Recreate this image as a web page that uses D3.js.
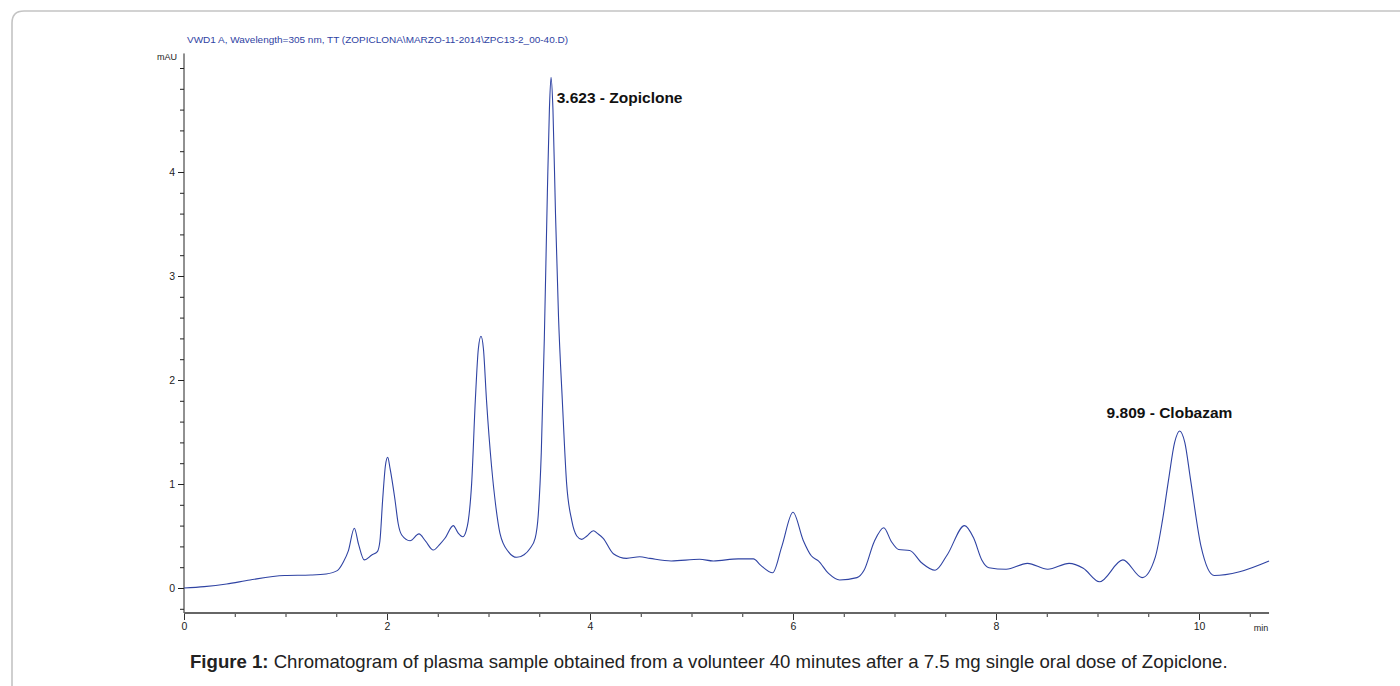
<!DOCTYPE html>
<html>
<head>
<meta charset="utf-8">
<script src="https://cdn.jsdelivr.net/npm/d3@7"></script>
<style>
  body { margin: 0; background: #fff; }
  svg { display: block; }
</style>
</head>
<body>
<div id="chart"></div>
<script>
// retention time (min) and signal (mAU)
var times = [0.00, 0.20, 0.42, 0.65, 0.99, 1.25, 1.40, 1.51, 1.57, 1.62, 1.678, 1.72, 1.776,
  1.85, 1.905, 1.93, 1.957, 1.985, 2.007, 2.03, 2.079, 2.11, 2.145, 2.227, 2.315, 2.38, 2.456,
  2.52, 2.571, 2.653, 2.70, 2.746, 2.78, 2.80, 2.834, 2.87, 2.90, 2.926, 2.95, 2.98, 3.03, 3.07,
  3.113, 3.195, 3.278, 3.35, 3.409, 3.46, 3.49, 3.52, 3.55, 3.58, 3.60, 3.616, 3.635, 3.66, 3.69,
  3.727, 3.77, 3.82, 3.87, 3.918, 3.97, 4.033, 4.08, 4.13, 4.23, 4.36, 4.49, 4.59, 4.80, 5.08,
  5.215, 5.46, 5.61, 5.68, 5.80, 5.89, 6.00, 6.10, 6.18, 6.25, 6.35, 6.46, 6.63, 6.70, 6.80,
  6.894, 6.97, 7.04, 7.15, 7.27, 7.40, 7.52, 7.69, 7.78, 7.86, 7.93, 8.10, 8.31, 8.51, 8.72,
  8.86, 9.02, 9.25, 9.44, 9.57, 9.64, 9.70, 9.76, 9.809, 9.86, 9.917, 10.02, 10.15, 10.40, 10.69];
var signal = [0.00, 0.013, 0.038, 0.077, 0.12, 0.125, 0.135, 0.167, 0.25, 0.36, 0.574, 0.42, 0.27,
  0.317, 0.35, 0.45, 0.846, 1.18, 1.257, 1.15, 0.846, 0.62, 0.51, 0.455, 0.52, 0.45, 0.365,
  0.42, 0.478, 0.60, 0.53, 0.493, 0.55, 0.64, 1.006, 1.80, 2.30, 2.42, 2.30, 1.81, 1.17, 0.80,
  0.526, 0.35, 0.295, 0.32, 0.38, 0.48, 0.70, 1.30, 2.40, 3.80, 4.60, 4.91, 4.60, 3.60, 2.60,
  1.81, 1.00, 0.65, 0.50, 0.468, 0.50, 0.55, 0.52, 0.478, 0.33, 0.285, 0.30, 0.285, 0.26, 0.276,
  0.26, 0.28, 0.28, 0.22, 0.147, 0.40, 0.728, 0.46, 0.31, 0.26, 0.14, 0.077, 0.10, 0.17, 0.445,
  0.58, 0.445, 0.37, 0.36, 0.24, 0.17, 0.32, 0.60, 0.48, 0.27, 0.195, 0.18, 0.237, 0.18, 0.237,
  0.19, 0.06, 0.27, 0.10, 0.30, 0.65, 1.04, 1.40, 1.51, 1.40, 1.04, 0.40, 0.12, 0.157, 0.26];

var xTicks = [0, 2, 4, 6, 8, 10];
var yTicks = [0, 1, 2, 3, 4];
var peakLabels = ["3.623 - Zopiclone", "9.809 - Clobazam"];
var peakTimes = [3.623, 9.809];
var peakHeights = [4.91, 1.51];

var titleText = "VWD1 A, Wavelength=305 nm, TT (ZOPICLONA\\MARZO-11-2014\\ZPC13-2_00-40.D)";

var w = 1400,
    h = 686,
    svg = d3.select("#chart")
            .append("svg")
            .attr("width", w)
            .attr("height", h);

var data = times.map(function(t, i) { return {t: t, v: signal[i]}; });

var x = d3.scaleLinear().domain([0, 10]).range([184, 1199]);
var y = d3.scaleLinear().domain([0, 4]).range([588, 172]);

var blue = "#2f43a3";
var axisFont = "'Liberation Sans Narrow', 'Liberation Sans', Arial, sans-serif";

// frame around the figure
svg.append("path")
    .attr("d", "M12,686 V23 Q12,11 24,11 H1400")
    .attr("fill", "none")
    .attr("stroke", "#c4c4c4")
    .attr("stroke-width", 1.6);

// header line
svg.append("text")
    .attr("x", 187)
    .attr("y", 43)
    .attr("font-family", axisFont)
    .attr("font-size", "9.5px")
    .attr("fill", blue)
    .attr("textLength", 381)
    .attr("lengthAdjust", "spacingAndGlyphs")
    .text(titleText);

// y axis: minor ticks every 0.2, labelled ticks at integers
var yMinor = d3.range(-1, 26).map(function(d) { return d * 0.2; });
svg.append("g")
    .attr("transform", "translate(184,0)")
    .call(d3.axisLeft(y).tickValues(yMinor).tickSize(4).tickFormat(""))
    .call(function(g) { g.select(".domain").remove(); })
    .selectAll("line").attr("stroke", "#222");

var gy = svg.append("g")
    .attr("transform", "translate(184,0)")
    .call(d3.axisLeft(y).tickValues(yTicks).tickSize(6).tickPadding(3).tickFormat(d3.format("d")));
gy.select(".domain").remove();
gy.selectAll("line").attr("stroke", "#222");
gy.selectAll("text")
    .attr("font-family", axisFont)
    .attr("font-size", "10.5px")
    .attr("fill", "#222");

svg.append("line")
    .attr("x1", 184).attr("x2", 184)
    .attr("y1", y(5.14)).attr("y2", 613)
    .attr("stroke", "#222")
    .attr("stroke-width", 1);

svg.append("text")
    .attr("x", 167)
    .attr("y", 60)
    .attr("text-anchor", "middle")
    .attr("font-family", axisFont)
    .attr("font-size", "9px")
    .attr("fill", "#222")
    .text("mAU");

// x axis
var xMinor = d3.range(0, 22).map(function(d) { return d * 0.5; });
svg.append("g")
    .attr("transform", "translate(0,613)")
    .call(d3.axisBottom(x).tickValues(xMinor).tickSize(4).tickFormat(""))
    .call(function(g) { g.select(".domain").remove(); })
    .selectAll("line").attr("stroke", "#333");

var gx = svg.append("g")
    .attr("transform", "translate(0,613)")
    .call(d3.axisBottom(x).tickValues(xTicks).tickSize(7).tickPadding(3).tickFormat(d3.format("d")));
gx.select(".domain").remove();
gx.selectAll("line").attr("stroke", "#333");
gx.selectAll("text")
    .attr("font-family", axisFont)
    .attr("font-size", "10.5px")
    .attr("fill", "#222");

svg.append("line")
    .attr("x1", 184).attr("x2", x(10.69))
    .attr("y1", 613).attr("y2", 613)
    .attr("stroke", "#666")
    .attr("stroke-width", 2);

svg.append("text")
    .attr("x", 1261)
    .attr("y", 631)
    .attr("text-anchor", "middle")
    .attr("font-family", axisFont)
    .attr("font-size", "9px")
    .attr("fill", "#222")
    .text("min");

// the trace
var line = d3.line()
    .x(function(d) { return x(d.t); })
    .y(function(d) { return y(d.v); })
    .curve(d3.curveMonotoneX);

svg.append("path")
    .datum(data)
    .attr("fill", "none")
    .attr("stroke", blue)
    .attr("stroke-width", 1.1)
    .attr("stroke-linejoin", "round")
    .attr("d", line);

// peak labels
svg.selectAll(".peak")
    .data(peakLabels)
    .enter().append("text")
    .attr("class", "peak")
    .attr("x", function(d, i) { return i == 0 ? x(peakTimes[i]) + 5 : x(peakTimes[i]) - 73; })
    .attr("y", function(d, i) { return i == 0 ? y(peakHeights[i]) + 26 : y(peakHeights[i]) - 13; })
    .attr("font-family", "'Liberation Sans', Arial, sans-serif")
    .attr("font-weight", "bold")
    .attr("font-size", "15.5px")
    .attr("fill", "#111")
    .text(function(d) { return d; });

// caption
var cap = svg.append("text")
    .attr("x", 190)
    .attr("y", 668)
    .attr("font-family", "'Liberation Sans', Arial, sans-serif")
    .attr("font-size", "18.6px")
    .attr("fill", "#222");
cap.append("tspan").attr("font-weight", "bold").text("Figure 1:");
cap.append("tspan").text(" Chromatogram of plasma sample obtained from a volunteer 40 minutes after a 7.5 mg single oral dose of Zopiclone.");
</script>
</body>
</html>
